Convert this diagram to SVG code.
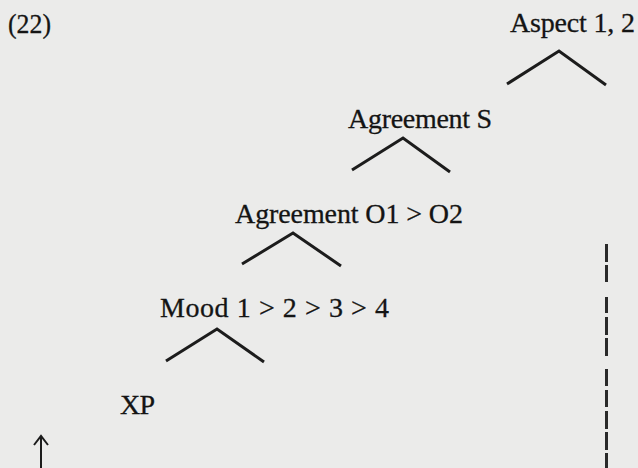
<svg xmlns="http://www.w3.org/2000/svg" width="638" height="468" viewBox="0 0 638 468">
<style>
.lbl{font-family:"Liberation Serif","Times New Roman",serif;font-size:28px;fill:#141414;stroke:#141414;stroke-width:0.3}
.br{fill:none;stroke:#1c1c1c;stroke-width:3;stroke-linecap:butt;stroke-linejoin:miter}
.dash{fill:none;stroke:#2a2a2a;stroke-width:3}
</style>
<rect width="638" height="468" fill="#ebebea"/>
<text class="lbl" x="8" y="33" font-size="27" textLength="43" lengthAdjust="spacingAndGlyphs">(22)</text>
<g id="aspect">
<text class="lbl" x="510" y="32" textLength="125">Aspect 1, 2</text>
</g>
<g id="agrS">
<text class="lbl" x="348" y="128" textLength="144">Agreement S</text>
</g>
<g id="agrO">
<text class="lbl" x="235" y="223" textLength="228">Agreement O1 &gt; O2</text>
</g>
<g id="mood">
<text class="lbl" x="160" y="317" textLength="229">Mood 1 &gt; 2 &gt; 3 &gt; 4</text>
</g>
<g id="xp">
<text class="lbl" x="120" y="414" textLength="35">XP</text>
</g>
<g id="connectors">
<path class="br" d="M507 84 L559 51 L606 85"/>
<path class="br" d="M352 170 L403 138 L450 172"/>
<path class="br" d="M242 264 L293 233 L341 266"/>
<path class="br" d="M166 361 L217 329 L264 362"/>
<path class="dash" d="M606.5 244V262M606.5 265V282M606.5 297V313M606.5 317V335M606.5 338V356M606.5 369V386M606.5 390V407M606.5 411V429M606.5 432V450M606.5 453V468"/>
<path fill="none" stroke="#1c1c1c" stroke-width="2" d="M41 437V468"/>
<path fill="none" stroke="#1c1c1c" stroke-width="2" d="M34 445L41 436L48 445"/>
</g>
</svg>
